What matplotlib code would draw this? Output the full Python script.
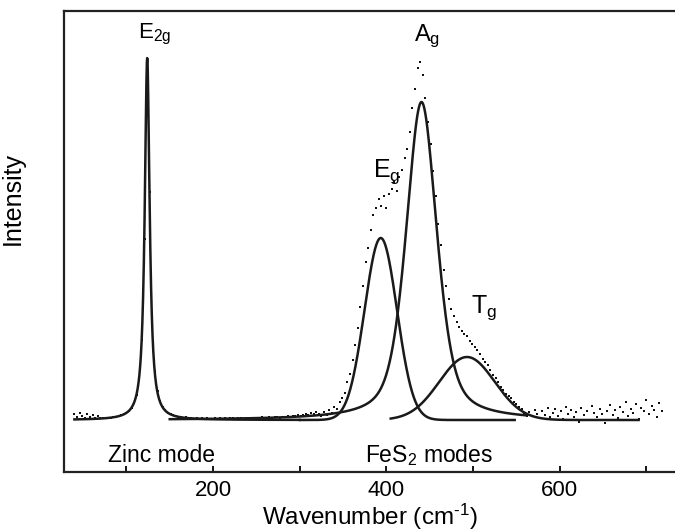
import numpy as np
import matplotlib
matplotlib.use("Agg")
import matplotlib.pyplot as plt

plt.rcParams['font.family'] = ['Liberation Sans', 'DejaVu Sans']
plt.rcParams['mathtext.fontset'] = 'custom'
plt.rcParams['mathtext.rm'] = 'Liberation Sans'
plt.rcParams['mathtext.it'] = 'Liberation Sans'

# Measured Raman spectrum, one reading every 3 cm-1 from 40 to 718
wavenumber = np.arange(40, 719, 3)
intensity = [
    # 40 - 100
    6, 3, 7, 4, 2, 6, 3, 5, 2, 4, 2, 2, 2, 2, 2, 3, 3, 4, 5, 6, 7,
    # 103 - 160 (zinc E2g)
    9, 12, 17, 25, 42, 80, 181, 357, 228, 98, 49, 29, 19, 13, 10, 7, 6, 5, 4, 3,
    # 163 - 319
    3, 2, 3, 2, 2, 1, 2, 1, 2, 1, 2, 1, 1, 2, 1, 2, 1, 2, 1, 2,
    2, 1, 2, 2, 1, 2, 2, 2, 1, 2, 2, 3, 2, 2, 3, 2, 3, 3, 2, 3,
    3, 4, 3, 4, 4, 5, 4, 5, 6, 5, 7, 6, 8,
    # 322 - 562 (FeS2 modes)
    6, 4, 8, 5, 10, 7, 13, 11, 18, 22, 27, 38, 46, 60, 75, 92, 113, 134, 158, 172,
    190, 205, 212, 221, 214, 224, 212, 226, 231, 238, 229, 243, 250, 262, 271, 288, 312, 331, 352, 358,
    345, 322, 298, 276, 249, 224, 196, 175, 150, 134, 121, 111, 104, 98, 93, 89, 86, 84, 79, 76,
    73, 70, 66, 61, 58, 55, 50, 45, 42, 38, 33, 30, 26, 24, 22, 18, 16, 13, 11, 7,
    4,
    # 565 - 718
    8, 4, 10, 6, 2, 9, 5, 12, 3, 7, 11, 4, 9, 1, 13, 6, 10, 3, 8, -2,
    12, 5, 9, 0, 14, 7, 3, 11, 6, -3, 9, 15, 5, 10, 2, 13, 8, 18, 4, 11,
    7, 16, 1, 12, 9, 20, 6, 14, 10, 3, 17, 9,
]

# Fitted peaks: centre (cm-1), height, half width, Lorentzian fraction, drawn range
peak_names = ["E2g", "Eg", "Ag", "Tg"]
peak_centre = [124, 393.5, 440.5, 493]
peak_height = [362, 182, 318, 63]
peak_hwhm = [3.4, 22.0, 21.0, 37.7]
peak_lorentz = [1.0, 0.0, 0.5, 0.0]
peak_range = [(40, 300), (300, 548), (150, 560), (405, 691)]


def pseudo_voigt(x, c, a, w, eta):
    lor = 1.0 / (1.0 + ((x - c) / w) ** 2)
    gau = np.exp(-np.log(2) * ((x - c) / w) ** 2)
    return a * (eta * lor + (1 - eta) * gau)


fig = plt.figure(figsize=(6.75, 5.31), dpi=100)
ax = fig.add_axes([64 / 675, 59 / 531, 1 - 64 / 675, 461 / 531])

ax.plot(wavenumber, intensity, 's', ms=2.1, color='#111111', mew=0)

for c, a, w, eta, (lo, hi) in zip(peak_centre, peak_height, peak_hwhm, peak_lorentz, peak_range):
    xs = np.linspace(lo, hi, 1500)
    ax.plot(xs, pseudo_voigt(xs, c, a, w, eta), color='#1a1a1a', lw=1.8)

ax.set_xlim(28, 733)
ax.set_ylim(-52, 409)

ax.text(132, 382, r"E$_{\mathrm{2g}}$", ha='center', va='baseline', fontsize=16)
ax.text(447, 379, r"A$_{\mathrm{g}}$", ha='center', va='baseline', fontsize=17)
ax.text(400, 243, r"E$_{\mathrm{g}}$", ha='center', va='baseline', fontsize=18)
ax.text(513, 107, r"T$_{\mathrm{g}}$", ha='center', va='baseline', fontsize=18)
ax.text(140, -42, "Zinc mode", ha='center', va='baseline', fontsize=16.5)
ax.text(449, -42, r"FeS$_{\mathrm{2}}$ modes", ha='center', va='baseline', fontsize=16.5)

ax.set_xticks([200, 400, 600])
ax.set_xticks([100, 300, 500, 700], minor=True)
ax.tick_params(axis='x', which='both', direction='in', length=4, width=1.3,
               labelsize=16, pad=6)
ax.set_yticks([])

for side in ['left', 'bottom', 'top']:
    ax.spines[side].set_linewidth(1.6)
    ax.spines[side].set_color('#222222')
ax.spines['right'].set_visible(False)

ax.set_xlabel("Wavenumber (cm$^{\\mathrm{\u2010}1}$)", fontsize=17.5, labelpad=0)
ax.set_ylabel("Intensity", fontsize=18)
ax.yaxis.set_label_coords(-0.064, 0.593)

fig.savefig("out.png", dpi=100)
